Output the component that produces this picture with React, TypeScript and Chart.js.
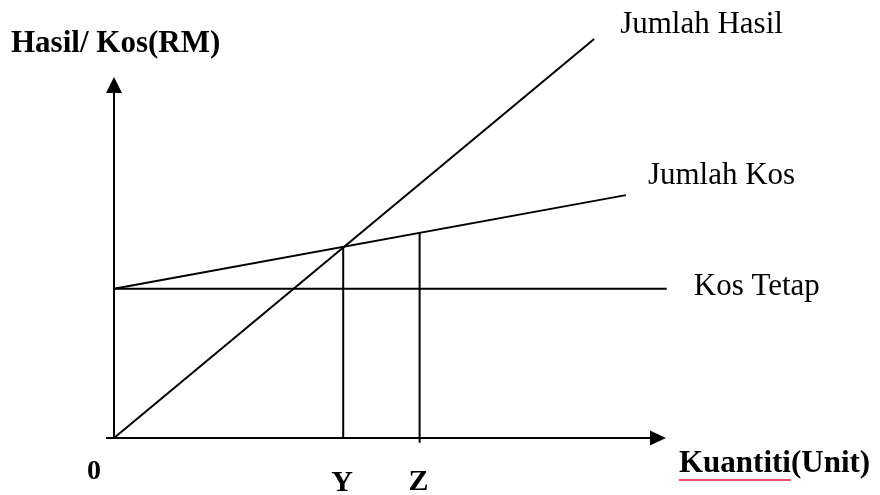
import React, { useEffect, useRef } from "react";
import { Chart, registerables } from "chart.js";

Chart.register(...registerables);

// Quantity (x) and revenue / cost (y) values
const hasilX = [0, 12.57];
const hasilY = [0, 125.7];
const kosX = [0, 13.4];
const kosY = [47, 76.5];
const tetapX = [0, 14.47];
const tetapY = [47, 47];
const markX = [6, 8];
const markBottom = [0, -1.5];
const markTop = [60, 64.9];
const markLabels = ["Y", "Z"];
const originLabel = "0";
const seriesLabels = ["Jumlah Hasil", "Jumlah Kos", "Kos Tetap"];
const yTitle = "Hasil/ Kos(RM)";
const xTitleMain = "Kuantiti";
const xTitleUnit = "(Unit)";
const xAxisEnd = 14.45;
const yAxisEnd = 113.7;
const xAxisStart = -0.21;

const toPts = (xs: number[], ys: number[]) => xs.map((x, i) => ({ x, y: ys[i] }));

export default function App() {
  const ref = useRef<HTMLCanvasElement | null>(null);
  useEffect(() => {
    document.body.style.margin = "0";
    const canvas = ref.current!;
    const lineDs = (pts: { x: number; y: number }[], label: string) => ({
      label,
      data: pts,
      showLine: true,
      borderColor: "#000",
      backgroundColor: "#000",
      borderWidth: 2,
      pointRadius: 0,
      clip: false as any,
    });
    const datasets: any[] = [
      lineDs(toPts(hasilX, hasilY), seriesLabels[0]),
      lineDs(toPts(kosX, kosY), seriesLabels[1]),
      lineDs(toPts(tetapX, tetapY), seriesLabels[2]),
      ...markX.map((x, i) =>
        lineDs(
          [
            { x, y: markBottom[i] },
            { x, y: markTop[i] },
          ],
          markLabels[i]
        )
      ),
    ];

    const decor = {
      id: "decor",
      beforeDatasetsDraw(chart: any) {
        const { ctx } = chart;
        const xs = chart.scales.x;
        const ys = chart.scales.y;
        const ox = xs.getPixelForValue(0);
        const oy = ys.getPixelForValue(0);
        const tipX = xs.getPixelForValue(xAxisEnd);
        const tipY = ys.getPixelForValue(yAxisEnd);
        ctx.save();
        ctx.strokeStyle = "#000";
        ctx.fillStyle = "#000";
        ctx.lineWidth = 2;
        // x axis
        ctx.beginPath();
        ctx.moveTo(xs.getPixelForValue(xAxisStart), oy);
        ctx.lineTo(tipX - 14, oy);
        ctx.stroke();
        ctx.beginPath();
        ctx.moveTo(tipX, oy);
        ctx.lineTo(tipX - 16, oy - 7.5);
        ctx.lineTo(tipX - 16, oy + 7.5);
        ctx.closePath();
        ctx.fill();
        // y axis
        ctx.beginPath();
        ctx.moveTo(ox, oy + 1);
        ctx.lineTo(ox, tipY + 14);
        ctx.stroke();
        ctx.beginPath();
        ctx.moveTo(ox, tipY);
        ctx.lineTo(ox - 8, tipY + 16);
        ctx.lineTo(ox + 8, tipY + 16);
        ctx.closePath();
        ctx.fill();
        ctx.restore();
      },
      afterDraw(chart: any) {
        const { ctx } = chart;
        const xs = chart.scales.x;
        const ys = chart.scales.y;
        const px = (v: number) => xs.getPixelForValue(v);
        const py = (v: number) => ys.getPixelForValue(v);
        ctx.save();
        ctx.fillStyle = "#000";
        ctx.textBaseline = "alphabetic";
        ctx.textAlign = "left";
        ctx.font = 'bold 31px "Liberation Serif"';
        ctx.fillText(yTitle, 11, 52);
        // x title
        const tx = 679;
        const tyb = 472;
        ctx.fillText(xTitleMain, tx, tyb);
        const wMain = ctx.measureText(xTitleMain).width;
        ctx.fillText(xTitleUnit, tx + wMain, tyb);
        ctx.strokeStyle = "#e8506e";
        ctx.lineWidth = 2;
        ctx.beginPath();
        ctx.moveTo(tx, 480);
        ctx.lineTo(tx + wMain, 480);
        ctx.stroke();
        // series labels
        ctx.font = '31px "Liberation Serif"';
        ctx.fillText(seriesLabels[0], px(hasilX[1]) + 26, py(hasilY[1]) - 6);
        ctx.fillText(seriesLabels[1], px(kosX[1]) + 22, py(kosY[1]) - 11);
        ctx.fillText(seriesLabels[2], px(tetapX[1]) + 27, py(tetapY[1]) + 6.5);
        // tick labels
        ctx.textAlign = "center";
        ctx.font = 'bold 28px "Liberation Serif"';
        ctx.fillText(originLabel, px(0) - 20, py(0) + 41);
        ctx.font = 'bold 30px "Liberation Serif"';
        markX.forEach((x, i) => {
          ctx.fillText(markLabels[i], px(x) - 1, py(0) + 53 - i * 1.5);
        });
        ctx.restore();
      },
    };

    const chart = new Chart(canvas, {
      type: "scatter",
      data: { datasets },
      options: {
        animation: false,
        responsive: false,
        devicePixelRatio: 1,
        layout: { padding: { left: 114, right: 193, top: 25.25, bottom: 57 } },
        plugins: { legend: { display: false }, tooltip: { enabled: false } },
        scales: {
          x: { type: "linear", min: 0, max: 15, display: false },
          y: { type: "linear", min: 0, max: 130, display: false },
        },
      },
      plugins: [decor],
    });
    return () => chart.destroy();
  }, []);
  return <canvas ref={ref} width={880} height={495} style={{ display: "block" }} />;
}
